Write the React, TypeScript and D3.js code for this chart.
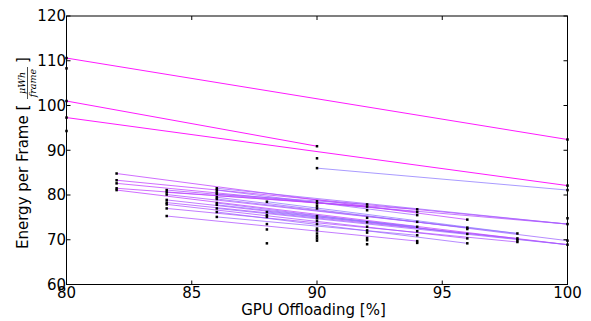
import React from "react";
import * as d3 from "d3";

// ---- data ----
const xTicks = [80, 85, 90, 95, 100];
const yTicks = [60, 70, 80, 90, 100, 110, 120];

// measured points, grouped by GPU offloading column
const columnX = [80, 82, 84, 86, 88, 90, 92, 94, 96, 98, 100];
const columnValues: number[][] = [
  [110.6, 108.3, 101.0, 97.3, 94.3],
  [84.8, 83.3, 82.6, 81.5, 81.1],
  [81.1, 80.6, 80.1, 78.9, 78.3, 77.9, 77.0, 75.3],
  [81.5, 81.1, 80.6, 80.2, 79.5, 79.1, 78.2, 77.8, 77.0, 76.2, 75.1],
  [78.5, 76.2, 75.5, 75.1, 73.5, 72.3, 69.2],
  [90.9, 88.2, 86.0, 78.6, 78.1, 77.5, 77.0, 75.3, 74.8, 74.2, 73.5, 72.5, 72.1, 71.4, 70.8, 70.3, 69.8],
  [77.9, 77.4, 76.6, 74.9, 73.9, 72.9, 72.1, 71.6, 70.4, 69.9, 69.0],
  [76.8, 76.2, 75.5, 74.0, 72.9, 71.9, 71.0, 69.7, 69.3],
  [74.5, 72.7, 72.4, 71.3, 70.3, 69.2],
  [71.4, 70.3, 69.9, 69.5],
  [92.4, 82.1, 81.1, 74.8, 73.5, 69.8, 68.9],
];

// lines: [startX, startEnergy, endX, endEnergy]
const segments: [number, number, number, number][] = [
  [80, 110.6, 100, 92.4],
  [80, 101.0, 90, 90.9],
  [80, 97.3, 100, 82.1],
  [90, 86.0, 100, 81.1],
  [82, 84.8, 96, 74.5],
  [82, 83.3, 100, 73.5],
  [82, 82.6, 94, 76.2],
  [84, 81.1, 100, 73.5],
  [84, 80.6, 94, 76.8],
  [86, 81.5, 100, 73.5],
  [86, 81.1, 94, 75.5],
  [82, 81.5, 92, 77.4],
  [86, 80.2, 92, 77.9],
  [84, 80.1, 96, 72.7],
  [82, 81.1, 100, 68.9],
  [84, 78.9, 100, 68.9],
  [84, 78.3, 98, 70.3],
  [84, 77.9, 96, 70.3],
  [84, 77.0, 98, 69.5],
  [84, 75.3, 94, 69.7],
  [86, 79.5, 100, 69.8],
  [86, 79.1, 98, 71.4],
  [86, 78.2, 96, 71.3],
  [86, 77.8, 94, 72.9],
  [86, 77.0, 100, 68.9],
  [86, 76.2, 96, 69.2],
  [86, 75.1, 94, 71.0],
  [88, 78.5, 98, 71.4],
  [88, 76.2, 94, 72.9],
];

const W = 591;
const H = 321;
const L = 66.5, R = 567.5, T = 16, B = 284.5;

export default function App() {
  const x = d3.scaleLinear().domain([80, 100]).range([L, R]);
  const y = d3.scaleLinear().domain([60, 120]).range([B, T]);
  const color = d3
    .scaleLinear<string>()
    .domain([80, 82, 88])
    .range(["#ff00ff", "#c03cff", "#8c78ff"])
    .clamp(true);
  const line = d3.line<[number, number]>().x((d) => x(d[0])).y((d) => y(d[1]));
  const font = "'DejaVu Sans', sans-serif";
  const tickLen = 4;
  const pts: [number, number][] = [];
  columnX.forEach((cx, i) => columnValues[i].forEach((v) => pts.push([cx, v])));

  return (
    <svg
      width={W}
      height={H}
      style={{ position: "absolute", left: 0, top: 0, background: "#fff" }}
    >
      <defs>
        <clipPath id="plot">
          <rect x={L} y={T} width={R - L} height={B - T} />
        </clipPath>
      </defs>
      <g clipPath="url(#plot)">
        {segments.map((s, i) => (
          <path
            key={i}
            d={line([
              [s[0], s[1]],
              [s[2], s[3]],
            ]) || ""}
            fill="none"
            stroke={color(s[0])}
            strokeWidth={1}
            strokeOpacity={s[0] === 80 ? 0.9 : 0.75}
          />
        ))}
      </g>
      {pts.map((p, i) => (
        <rect
          key={i}
          x={x(p[0]) - 1.25}
          y={y(p[1]) - 1.25}
          width={2.5}
          height={2.5}
          fill="#000"
        />
      ))}
      {/* frame */}
      <rect
        x={L}
        y={T}
        width={R - L}
        height={B - T}
        fill="none"
        stroke="#000"
        strokeWidth={1}
      />
      {/* ticks */}
      {xTicks.map((t) => (
        <g key={"x" + t}>
          <line x1={x(t)} x2={x(t)} y1={B} y2={B - tickLen} stroke="#000" />
          <line x1={x(t)} x2={x(t)} y1={T} y2={T + tickLen} stroke="#000" />
          <text
            x={x(t)}
            y={298}
            textAnchor="middle"
            fontFamily={font}
            fontSize={15}
            fill="#000"
          >
            {t}
          </text>
        </g>
      ))}
      {yTicks.map((t) => (
        <g key={"y" + t}>
          <line x1={L} x2={L + tickLen} y1={y(t)} y2={y(t)} stroke="#000" />
          <line x1={R} x2={R - tickLen} y1={y(t)} y2={y(t)} stroke="#000" />
          <text
            x={L - 0.5}
            y={y(t)}
            dy="0.36em"
            textAnchor="end"
            fontFamily={font}
            fontSize={15}
            fill="#000"
          >
            {t}
          </text>
        </g>
      ))}
      {/* x axis title */}
      <text
        x={313.5}
        y={314.5}
        textAnchor="middle"
        fontFamily={font}
        fontSize={15}
        fill="#000"
      >
        GPU Offloading [%]
      </text>
      {/* y axis title */}
      <g transform="translate(28, 249) rotate(-90)">
        <text x={0} y={0} fontFamily={font} fontSize={15} fill="#000">
          Energy per Frame [
        </text>
        <text
          x={166}
          y={-3}
          textAnchor="middle"
          fontFamily="'DejaVu Serif', serif"
          fontStyle="italic"
          fontSize={9.5}
          fill="#000"
        >
          μWh
        </text>
        <line x1={150} x2={182} y1={-0.5} y2={-0.5} stroke="#000" strokeWidth={0.7} />
        <text
          x={166}
          y={7.5}
          textAnchor="middle"
          fontFamily="'DejaVu Serif', serif"
          fontStyle="italic"
          fontSize={9.5}
          fill="#000"
        >
          frame
        </text>
        <text x={186} y={0} fontFamily={font} fontSize={15} fill="#000">
          ]
        </text>
      </g>
    </svg>
  );
}
